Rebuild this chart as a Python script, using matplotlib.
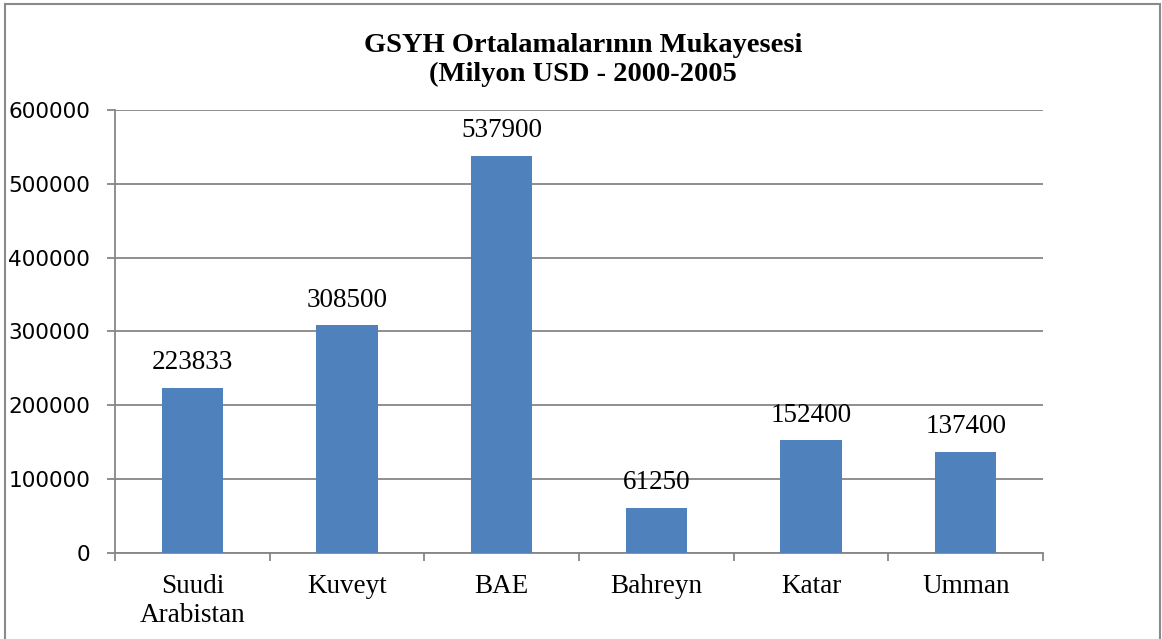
import matplotlib.pyplot as plt
from matplotlib.patches import Rectangle

plt.rcParams['font.family'] = ['Liberation Serif', 'DejaVu Serif']

# data
countries = ['Suudi\nArabistan', 'Kuveyt', 'BAE', 'Bahreyn', 'Katar', 'Umman']
gdp_avg = [223833, 308500, 537900, 61250, 152400, 137400]
yticks = [0, 100000, 200000, 300000, 400000, 500000, 600000]

BAR_COLOR = '#4F81BD'
GRID_COLOR = '#868686'

fig = plt.figure(figsize=(11.62, 6.39), dpi=100)
ax = fig.add_axes([0.099, 0.1346, 0.7986, 0.6933])

x = list(range(len(countries)))
bars = ax.bar(x, gdp_avg, width=0.395, color=BAR_COLOR, zorder=3)

for xi, v in zip(x, gdp_avg):
    ax.annotate(str(v), xy=(xi, v), xytext=(0, 9), textcoords='offset points',
                ha='center', va='bottom', fontsize=19.5, zorder=4)

ax.set_xlim(-0.5, len(countries) - 0.5)
ax.set_ylim(0, 600000)
ax.set_yticks(yticks)
ax.set_yticklabels([str(t) for t in yticks], fontsize=15.6, family='DejaVu Sans')
ax.yaxis.grid(True, color=GRID_COLOR, linewidth=1.3, zorder=0)

# category labels centred, tick marks on boundaries
ax.set_xticks(x)
ax.set_xticklabels(countries, fontsize=19.5, linespacing=1.2)
ax.tick_params(axis='x', length=0, pad=15)
ax.set_xticks([i - 0.5 for i in range(len(countries) + 1)], minor=True)
ax.tick_params(axis='x', which='minor', length=5.5, width=1.3, color=GRID_COLOR)
ax.tick_params(axis='y', length=5.8, width=1.3, color=GRID_COLOR, pad=12)

for side in ['top', 'right']:
    ax.spines[side].set_visible(False)
for side in ['left', 'bottom']:
    ax.spines[side].set_color(GRID_COLOR)
    ax.spines[side].set_linewidth(1.3)

fig.text(0.502, 0.906, 'GSYH Ortalamalarının Mukayesesi\n(Milyon USD - 2000-2005',
         ha='center', va='center', fontsize=20.5, fontweight='bold', linespacing=1.17)

# outer chart border
fig.patches.append(Rectangle((5 / 1162, -0.01), 1155 / 1162, 1 - 4 / 639 + 0.01,
                             transform=fig.transFigure, fill=False,
                             edgecolor='#8a8a8a', linewidth=1.5))

fig.savefig('out.png', dpi=100)
